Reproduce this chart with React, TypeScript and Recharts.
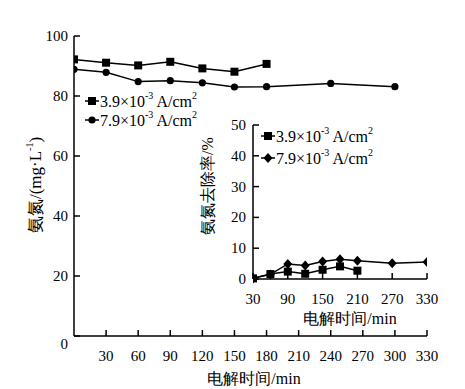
import React from "react";
import { LineChart, Line, XAxis, YAxis } from "recharts";

// main chart: ammonia nitrogen concentration (mg/L) vs electrolysis time
const lowCurrentConc = [
  { t: 0, v: 92.2 },
  { t: 30, v: 91.1 },
  { t: 60, v: 90.2 },
  { t: 90, v: 91.4 },
  { t: 120, v: 89.2 },
  { t: 150, v: 88.1 },
  { t: 180, v: 90.7 },
];
const highCurrentConc = [
  { t: 0, v: 88.9 },
  { t: 30, v: 87.9 },
  { t: 60, v: 84.8 },
  { t: 90, v: 85.1 },
  { t: 120, v: 84.4 },
  { t: 150, v: 83.0 },
  { t: 180, v: 83.1 },
  { t: 240, v: 84.2 },
  { t: 300, v: 83.1 },
];

// inset: removal rate (%)
const lowCurrentRemoval = [
  { t: 30, v: 0.2 },
  { t: 60, v: 1.6 },
  { t: 90, v: 2.4 },
  { t: 120, v: 1.7 },
  { t: 150, v: 3.0 },
  { t: 180, v: 4.1 },
  { t: 210, v: 2.7 },
];
const highCurrentRemoval = [
  { t: 30, v: 0.2 },
  { t: 60, v: 1.5 },
  { t: 90, v: 4.9 },
  { t: 120, v: 4.4 },
  { t: 150, v: 5.7 },
  { t: 180, v: 6.4 },
  { t: 210, v: 5.9 },
  { t: 270, v: 5.1 },
  { t: 330, v: 5.5 },
];

const mainXTicks = [30, 60, 90, 120, 150, 180, 210, 240, 270, 300, 330];
const mainYTicks = [0, 20, 40, 60, 80, 100];
const insetXTicks = [30, 90, 150, 210, 270, 330];
const insetYTicks = [0, 10, 20, 30, 40, 50];

const FONT = "Times New Roman, Liberation Serif, serif";

const numTick = (dyZero: number) => (props: any) => {
  const { x, y, payload, textAnchor, orientation } = props;
  const isX = orientation === "bottom";
  return (
    <text
      x={x}
      y={y + (!isX && payload.value === 0 ? dyZero : 0)}
      dy={isX ? 11 : 0}
      textAnchor={isX ? "middle" : textAnchor || "end"}
      dominantBaseline="central"
      fill="#000"
      fontSize={15}
      fontFamily={FONT}
    >
      {payload.value}
    </text>
  );
};

const square = (p: any) => (
  <rect key={`s${p.index}`} x={p.cx - 4} y={p.cy - 4} width={8} height={8} fill="#000" />
);
const circle = (p: any) => (
  <circle key={`c${p.index}`} cx={p.cx} cy={p.cy} r={3.6} fill="#000" />
);
const diamond = (p: any) => (
  <polygon
    key={`d${p.index}`}
    points={`${p.cx},${p.cy - 5} ${p.cx + 4.5},${p.cy} ${p.cx},${p.cy + 5} ${p.cx - 4.5},${p.cy}`}
    fill="#000"
  />
);

const LegendRow = ({
  x,
  y,
  label,
  marker,
}: {
  x: number;
  y: number;
  label: string;
  marker: "square" | "circle" | "diamond";
}) => (
  <g>
    <line x1={x} y1={y} x2={x + 14} y2={y} stroke="#000" strokeWidth={1.5} />
    {marker === "square" && <rect x={x + 3} y={y - 4} width={8} height={8} fill="#000" />}
    {marker === "circle" && <circle cx={x + 7} cy={y} r={3.6} fill="#000" />}
    {marker === "diamond" && (
      <polygon
        points={`${x + 7},${y - 5} ${x + 11.5},${y} ${x + 7},${y + 5} ${x + 2.5},${y}`}
        fill="#000"
      />
    )}
    <text x={x + 15} y={y} dominantBaseline="central" fontSize={16} fontFamily={FONT} fill="#000">
      {label}×10
      <tspan dy={-6} fontSize={10}>
        -3
      </tspan>
      <tspan dy={6}> A/cm</tspan>
      <tspan dy={-6} fontSize={10}>
        2
      </tspan>
    </text>
  </g>
);

export default function App() {
  return (
    <div style={{ position: "absolute", left: 0, top: 0, width: 465, height: 389, background: "#fff" }}>
      <div style={{ position: "absolute", left: 0, top: 0 }}>
        <LineChart width={465} height={389} margin={{ top: 36, right: 38, bottom: 0, left: 0 }}>
          <XAxis
            dataKey="t"
            type="number"
            domain={[0, 330]}
            ticks={mainXTicks}
            allowDataOverflow
            height={53}
            tickSize={-6}
            tickMargin={15}
            stroke="#000"
            strokeWidth={1.5}
            tick={numTick(0)}
          />
          <YAxis
            dataKey="v"
            type="number"
            domain={[0, 100]}
            ticks={mainYTicks}
            width={74}
            tickSize={-6}
            tickMargin={12}
            stroke="#000"
            strokeWidth={1.5}
            tick={numTick(8)}
          />
          <Line
            data={lowCurrentConc}
            dataKey="v"
            stroke="#000"
            strokeWidth={1.5}
            dot={square}
            isAnimationActive={false}
          />
          <Line
            data={highCurrentConc}
            dataKey="v"
            stroke="#000"
            strokeWidth={1.5}
            dot={circle}
            isAnimationActive={false}
          />
          <text
            x={254}
            y={378}
            textAnchor="middle"
            dominantBaseline="central"
            fontSize={16}
            fontFamily={FONT}
            fill="#000"
          >
            电解时间/min
          </text>
          <text
            transform="translate(35,185) rotate(-90)"
            textAnchor="middle"
            dominantBaseline="central"
            fontSize={17}
            fontFamily={FONT}
            fill="#000"
          >
            氨氮/(mg·L
            <tspan dy={-6} fontSize={10}>
              -1
            </tspan>
            <tspan dy={6}>)</tspan>
          </text>
          <LegendRow x={85} y={101} label="3.9" marker="square" />
          <LegendRow x={85} y={120} label="7.9" marker="circle" />
        </LineChart>
      </div>
      <div style={{ position: "absolute", left: 180, top: 100 }}>
        <LineChart width={260} height={230} margin={{ top: 25, right: 13, bottom: 0, left: 0 }}>
          <XAxis
            dataKey="t"
            type="number"
            domain={[30, 330]}
            ticks={insetXTicks}
            allowDataOverflow
            height={51}
            tickSize={-6}
            tickMargin={15}
            stroke="#000"
            strokeWidth={1.5}
            tick={numTick(0)}
          />
          <YAxis
            dataKey="v"
            type="number"
            domain={[0, 50]}
            ticks={insetYTicks}
            width={73}
            tickSize={-6}
            tickMargin={13}
            stroke="#000"
            strokeWidth={1.5}
            tick={numTick(0)}
          />
          <Line
            data={lowCurrentRemoval}
            dataKey="v"
            stroke="#000"
            strokeWidth={1.5}
            dot={square}
            isAnimationActive={false}
          />
          <Line
            data={highCurrentRemoval}
            dataKey="v"
            stroke="#000"
            strokeWidth={1.5}
            dot={diamond}
            isAnimationActive={false}
          />
          <text
            x={170}
            y={218}
            textAnchor="middle"
            dominantBaseline="central"
            fontSize={16}
            fontFamily={FONT}
            fill="#000"
          >
            电解时间/min
          </text>
          <text
            transform="translate(27,86) rotate(-90)"
            textAnchor="middle"
            dominantBaseline="central"
            fontSize={16}
            fontFamily={FONT}
            fill="#000"
          >
            氨氮去除率/%
          </text>
          <LegendRow x={81} y={36} label="3.9" marker="square" />
          <LegendRow x={81} y={58} label="7.9" marker="diamond" />
        </LineChart>
      </div>
    </div>
  );
}
